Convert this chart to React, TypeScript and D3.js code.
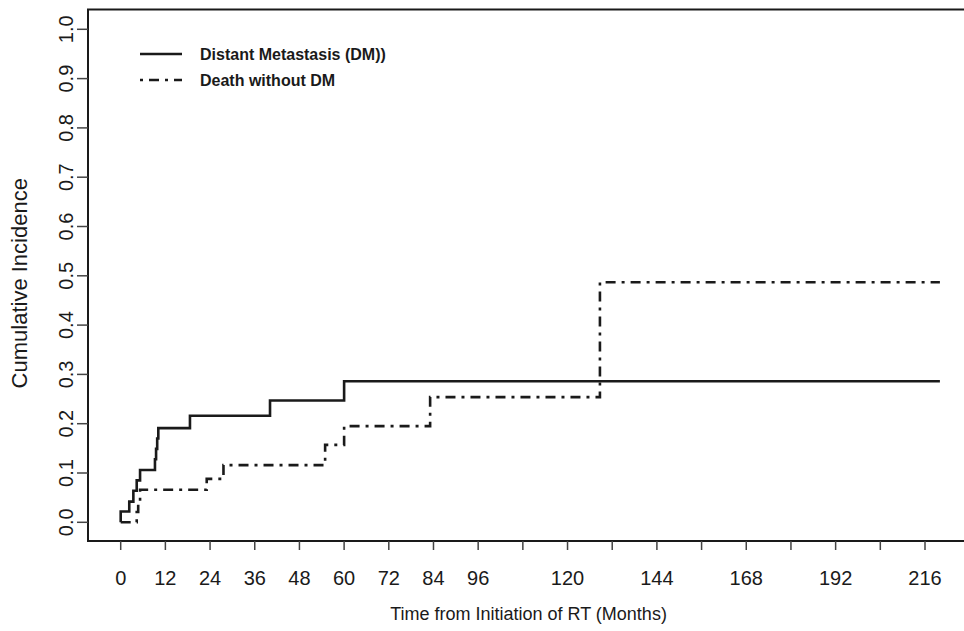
import React from "react";
import * as d3 from "d3";

const xTicks = [0, 12, 24, 36, 48, 60, 72, 84, 96, 108, 120, 132, 144, 156, 168, 180, 192, 204, 216];
const xTickLabels = ["0", "12", "24", "36", "48", "60", "72", "84", "96", "", "120", "", "144", "", "168", "", "192", "", "216"];
const yTicks = [0, 0.1, 0.2, 0.3, 0.4, 0.5, 0.6, 0.7, 0.8, 0.9, 1.0];

const dmTimes = [0, 0, 2.3, 3.4, 4.3, 5.2, 9.2, 9.5, 9.8, 10.1, 18.6, 40.1, 60, 220];
const dmValues = [0, 0.022, 0.042, 0.064, 0.085, 0.106, 0.128, 0.149, 0.17, 0.191, 0.216, 0.247, 0.286, 0.286];

const deathTimes = [0, 4.3, 4.7, 5.2, 23.1, 27.6, 54.9, 60, 83.1, 128.7, 220];
const deathValues = [0, 0.021, 0.043, 0.066, 0.088, 0.116, 0.157, 0.195, 0.254, 0.487, 0.487];

const legendLabels = ["Distant Metastasis (DM))", "Death without DM"];

const W = 964;
const H = 631;
const box = { left: 88, top: 9.5, right: 969, bottom: 541 };
const FONT = "Liberation Sans, Arial, sans-serif";
const INK = "#1a1a1a";
const DASH = "10,6,3,6";

export default function App() {
  const x = d3.scaleLinear().domain([0, 216]).range([120.7, 925]);
  const y = d3.scaleLinear().domain([0, 1]).range([522.3, 29.3]);
  const line = d3
    .line<[number, number]>()
    .x((d) => x(d[0]))
    .y((d) => y(d[1]))
    .curve(d3.curveStepAfter);
  const dmPts: [number, number][] = dmTimes.map((t, i) => [t, dmValues[i]]);
  const deathPts: [number, number][] = deathTimes.map((t, i) => [t, deathValues[i]]);

  return (
    <div style={{ position: "absolute", left: 0, top: 0, width: W, height: H, background: "#fff" }}>
      <svg width={W} height={H} style={{ display: "block" }} fontFamily={FONT}>
        <rect x={0} y={0} width={W} height={H} fill="#fff" />
        <rect
          x={box.left}
          y={box.top}
          width={box.right - box.left}
          height={box.bottom - box.top}
          fill="none"
          stroke={INK}
          strokeWidth={2}
        />
        {xTicks.map((t, i) => (
          <g key={"xt" + t}>
            <line x1={x(t)} x2={x(t)} y1={box.bottom} y2={box.bottom + 9} stroke="#444" strokeWidth={1.5} />
            {xTickLabels[i] && (
              <text x={x(t)} y={584.5} textAnchor="middle" fontSize={20} fill={INK}>
                {xTickLabels[i]}
              </text>
            )}
          </g>
        ))}
        <text x={(box.left + box.right) / 2} y={620} textAnchor="middle" fontSize={18} fill={INK}>
          Time from Initiation of RT (Months)
        </text>
        {yTicks.map((v) => (
          <g key={"yt" + v}>
            <line x1={box.left - 11} x2={box.left} y1={y(v)} y2={y(v)} stroke="#444" strokeWidth={1.5} />
            <text
              transform={`translate(${72.5},${y(v)}) rotate(-90)`}
              textAnchor="middle"
              fontSize={20}
              fill={INK}
            >
              {v.toFixed(1)}
            </text>
          </g>
        ))}
        <text
          transform={`translate(${27},${(box.top + box.bottom) / 2 + 8}) rotate(-90)`}
          textAnchor="middle"
          fontSize={22}
          fill={INK}
        >
          Cumulative Incidence
        </text>
        <path d={line(dmPts) || ""} fill="none" stroke={INK} strokeWidth={2.6} />
        <path d={line(deathPts) || ""} fill="none" stroke={INK} strokeWidth={2.6} strokeDasharray={DASH} />
        <line x1={140} x2={182} y1={54} y2={54} stroke={INK} strokeWidth={2.6} />
        <text x={200} y={60} fontSize={16} fontWeight="bold" fill={INK}>
          {legendLabels[0]}
        </text>
        <line x1={140} x2={182} y1={80} y2={80} stroke={INK} strokeWidth={2.6} strokeDasharray="3,6,10,6" />
        <text x={200} y={86} fontSize={16} fontWeight="bold" fill={INK}>
          {legendLabels[1]}
        </text>
      </svg>
    </div>
  );
}
